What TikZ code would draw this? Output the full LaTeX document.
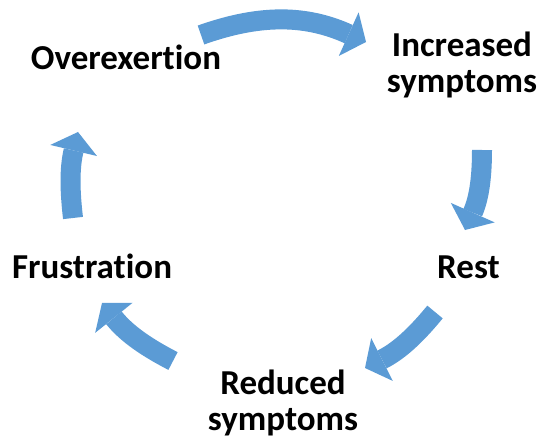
\documentclass[tikz,border=0pt]{standalone}
\usepackage{fontspec}
\setmainfont{Carlito}[Ligatures=NoCommon]
\usetikzlibrary{arrows.meta}
\definecolor{cycleblue}{RGB}{91,155,213}

\begin{document}
\begin{tikzpicture}[x=1pt,y=1pt,
  stage/.style={font=\fontsize{35}{36}\selectfont\bfseries,inner sep=0pt,align=center,anchor=base},
  flow/.style={draw=cycleblue,line width=20pt,
    -{Triangle[width=48pt,length=19pt,line width=0pt]}}]
  \useasboundingbox (0,0) rectangle (544,440);

  % Stages (two-line labels sit on their last line)
  \node[stage] (overexertion) at (126,370.5) {Overexertion};
  \node[stage] (increased) at (462,347) {Increased\\symptoms};
  \node[stage] (rest) at (468.5,162) {Rest};
  \node[stage] (reduced) at (283,10) {Reduced\\symptoms};
  \node[stage] (frustration) at (92,162) {Frustration};

  % Arrow ends
  \coordinate (a1s) at (201,405);
  \coordinate (a1e) at (366,398);
  \coordinate (a2s) at (482,290);
  \coordinate (a2e) at (465,210);
  \coordinate (a3s) at (435,128);
  \coordinate (a3e) at (365,72);
  \coordinate (a4s) at (173,79);
  \coordinate (a4e) at (102,137);
  \coordinate (a5s) at (73,222);
  \coordinate (a5e) at (78,308);

  % Arrows
  \draw[flow] (a1s) to[bend left=22] (a1e);
  \draw[flow] (a2s) to[bend left=12] (a2e);
  \draw[flow] (a3s) to[bend left=12] (a3e);
  \draw[flow] (a4s) to[bend left=12] (a4e);
  \draw[flow] (a5s) to[bend left=10] (a5e);
\end{tikzpicture}
\end{document}
